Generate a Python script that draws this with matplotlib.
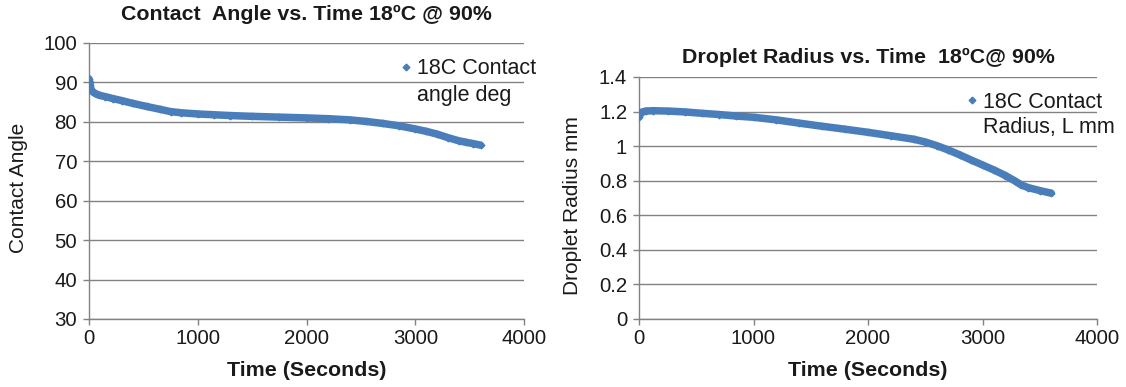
import matplotlib
matplotlib.use("Agg")
import matplotlib.pyplot as plt
from matplotlib.ticker import FuncFormatter

# contact angle (deg) vs time (s)
angle_time = [0, 5, 10, 20, 40, 70, 100, 150, 220, 300, 400, 530, 650, 750, 850,
              1000, 1150, 1300, 1500, 1750, 2000, 2200, 2400, 2550, 2700, 2850,
              3000, 3100, 3200, 3300, 3400, 3470, 3530, 3600]
angle_deg = [90.9, 90.2, 89.3, 88.1, 87.5, 87.0, 86.7, 86.4, 85.9, 85.4, 84.7, 83.9,
             83.2, 82.6, 82.3, 82.0, 81.8, 81.6, 81.4, 81.2, 81.0, 80.8, 80.5, 80.1,
             79.6, 79.0, 78.2, 77.6, 76.9, 76.0, 75.2, 74.8, 74.5, 74.1]

# contact radius (mm) vs time (s)
radius_time = [0, 10, 30, 60, 120, 250, 400, 550, 700, 850, 1000, 1200, 1400, 1600,
               1800, 2000, 2200, 2400, 2500, 2600, 2700, 2800, 2900, 3000, 3100,
               3200, 3280, 3340, 3400, 3500, 3600]
radius_mm = [1.170, 1.185, 1.198, 1.203, 1.205, 1.203, 1.198, 1.190, 1.183, 1.174,
             1.167, 1.152, 1.133, 1.115, 1.098, 1.080, 1.060, 1.040, 1.024, 1.003,
             0.978, 0.950, 0.920, 0.891, 0.862, 0.830, 0.800, 0.775, 0.760, 0.743,
             0.728]

angle_ticks = [30, 40, 50, 60, 70, 80, 90, 100]
radius_ticks = [0, 0.2, 0.4, 0.6, 0.8, 1.0, 1.2, 1.4]
time_ticks = [0, 1000, 2000, 3000, 4000]

W, H = 1126, 387
BLUE = "#4a7ebb"
GREY = "#828282"
TXT = "#1a1a1a"
TICK_FS = 14.7
LEG_FS = 15.5
BOLD_FS = 15.4
YLAB_FS = 15

plt.rcParams["font.family"] = ["Liberation Sans", "DejaVu Sans"]

fig = plt.figure(figsize=(W / 100, H / 100), dpi=100)


def px_axes(x0, x1, y0, y1):
    # pixel box (left, right, top, bottom) -> figure fraction
    return fig.add_axes([x0 / W, 1 - y1 / H, (x1 - x0) / W, (y1 - y0) / H])


def style(ax, ylim, yticks, fmt=None):
    ax.set_xlim(0, 4000)
    ax.set_ylim(*ylim)
    ax.set_xticks(time_ticks)
    ax.set_yticks(yticks)
    if fmt:
        ax.yaxis.set_major_formatter(FuncFormatter(fmt))
    ax.grid(axis="y", color=GREY, lw=1.0)
    ax.set_axisbelow(True)
    for s in ["top", "right"]:
        ax.spines[s].set_visible(False)
    for s in ["left", "bottom"]:
        ax.spines[s].set_color(GREY)
        ax.spines[s].set_linewidth(1.0)
    ax.tick_params(direction="out", length=4, width=1.0, color=GREY,
                   labelsize=TICK_FS, labelcolor=TXT)
    ax.tick_params(axis="y", pad=4.5)
    ax.tick_params(axis="x", pad=3)


def series(ax, t, v, label):
    ax.plot(t, v, "-", color=BLUE, lw=5.4, solid_capstyle="round", zorder=3)
    ax.plot(t, v, "D", color=BLUE, ms=3.4, ls="none", label=label, zorder=3)


def legend(ax, xm, ym, second, xt, yt):
    ax.legend(loc="center left", bbox_to_anchor=((xm - 6.5) / W, 1 - ym / H),
              bbox_transform=fig.transFigure, frameon=False, borderpad=0,
              borderaxespad=0, handlelength=0.6, handletextpad=0.22,
              fontsize=LEG_FS, labelcolor=TXT)
    fig.text(xt / W, 1 - yt / H, second, fontsize=LEG_FS, color=TXT, va="center")


# ---- left: contact angle
ax1 = px_axes(89, 524, 43, 319)
style(ax1, (30, 100), angle_ticks)
series(ax1, angle_time, angle_deg, "18C Contact")
ax1.set_title("Contact  Angle vs. Time 18ºC @ 90%", fontsize=BOLD_FS, fontweight="bold",
              color=TXT, y=1 + (43 - 14) / 276, va="center", pad=0)
ax1.set_xlabel("Time (Seconds)", fontsize=BOLD_FS, fontweight="bold", color=TXT)
ax1.xaxis.set_label_coords(0.5, -(370 - 319) / 276)
ax1.xaxis.label.set_va("center")
ax1.set_ylabel("Contact Angle", fontsize=YLAB_FS, color=TXT)
ax1.yaxis.set_label_coords((19 - 89) / 435, (319 - 188) / 276)
ax1.yaxis.label.set_va("center")
legend(ax1, 406, 69, "angle deg", 417, 95)

# ---- right: droplet radius
ax2 = px_axes(639, 1097, 77, 319)
style(ax2, (0, 1.4), radius_ticks, lambda v, p: "%g" % round(v, 1))
series(ax2, radius_time, radius_mm, "18C Contact")
ax2.set_title("Droplet Radius vs. Time  18ºC@ 90%", fontsize=BOLD_FS, fontweight="bold",
              color=TXT, y=1 + (77 - 57) / 242, va="center", pad=0)
ax2.set_xlabel("Time (Seconds)", fontsize=BOLD_FS, fontweight="bold", color=TXT)
ax2.xaxis.set_label_coords(0.5, -(370 - 319) / 242)
ax2.xaxis.label.set_va("center")
ax2.set_ylabel("Droplet Radius mm", fontsize=YLAB_FS, color=TXT)
ax2.yaxis.set_label_coords((572 - 639) / 458, (319 - 206) / 242)
ax2.yaxis.label.set_va("center")
legend(ax2, 972, 102, "Radius, L mm", 983, 127)

fig.savefig("out.png", dpi=100)
